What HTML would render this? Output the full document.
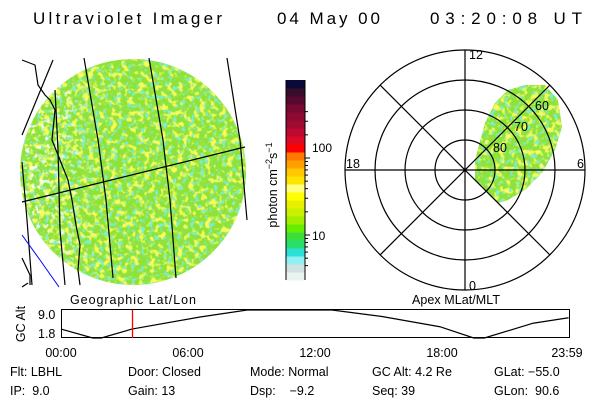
<!DOCTYPE html>
<html><head><meta charset="utf-8"><style>
html,body{margin:0;padding:0;background:#fff;}
svg{display:block;font-family:"Liberation Sans","DejaVu Sans",sans-serif;}
</style></head><body>
<svg id="root" width="600" height="400" viewBox="0 0 600 400" xmlns="http://www.w3.org/2000/svg">
<defs>
<clipPath id="clipL"><circle cx="133" cy="172" r="113"/></clipPath>
<clipPath id="clipP"><path d="M475,160 L485,123 L495,103 L508,90 L525,85 L545,85 L558,100 L562,127 L555,150 L542,173 L525,190 L508,200 L498,203 L485,190 L475,180 Z"/></clipPath>
<filter id="fy" x="0" y="0" width="1" height="1">
<feTurbulence type="fractalNoise" baseFrequency="0.18" numOctaves="2" seed="3"/>
<feColorMatrix type="matrix" values="0 0 0 0 0.95  0 0 0 0 0.97  0 0 0 0 0.1  6 0 0 0 -3.0"/>
<feComposite operator="in" in2="SourceAlpha"/>
</filter>
<filter id="fc" x="0" y="0" width="1" height="1">
<feTurbulence type="fractalNoise" baseFrequency="0.22" numOctaves="2" seed="9"/>
<feColorMatrix type="matrix" values="0 0 0 0 0.2  0 0 0 0 0.85  0 0 0 0 0.65  6 0 0 0 -3.3"/>
<feComposite operator="in" in2="SourceAlpha"/>
</filter>
<filter id="fw" x="0" y="0" width="1" height="1">
<feTurbulence type="fractalNoise" baseFrequency="0.2" numOctaves="2" seed="5"/>
<feColorMatrix type="matrix" values="0 0 0 0 1  0 0 0 0 1  0 0 0 0 1  0 7 0 0 -3.9"/>
<feComposite operator="in" in2="SourceAlpha"/>
</filter>
<linearGradient id="gw" x1="0" x2="1" y1="0" y2="0">
<stop offset="0" stop-color="#fff" stop-opacity="1"/>
<stop offset="0.2" stop-color="#fff" stop-opacity="0.7"/>
<stop offset="0.35" stop-color="#fff" stop-opacity="0"/>
<stop offset="1" stop-color="#fff" stop-opacity="0"/>
</linearGradient>
<linearGradient id="gwp" x1="0" x2="1" y1="0" y2="1">
<stop offset="0" stop-color="#fff" stop-opacity="0"/>
<stop offset="0.6" stop-color="#fff" stop-opacity="0"/>
<stop offset="0.85" stop-color="#fff" stop-opacity="1"/>
</linearGradient>
</defs>

<g font-size="17" fill="#000">
<text x="33" y="24" textLength="189" lengthAdjust="spacing">Ultraviolet Imager</text>
<text x="277" y="24" textLength="103" lengthAdjust="spacing">04 May 00</text>
<text x="430" y="24" textLength="152" lengthAdjust="spacing">03:20:08 UT</text>
</g>

<g>
<circle cx="133" cy="172" r="113" fill="#8fe23a"/>
<rect x="20" y="58" width="226" height="228" clip-path="url(#clipL)" filter="url(#fy)" fill="#000"/>
<rect x="20" y="58" width="226" height="228" clip-path="url(#clipL)" filter="url(#fc)" fill="#000"/>
<rect x="20" y="58" width="226" height="228" clip-path="url(#clipL)" filter="url(#fw)" fill="url(#gw)"/>
<g stroke="#000" stroke-width="1.2" fill="none">
<path d="M84,58 L98,140 L106,200 L113,278"/>
<path d="M149,58 L163,140 L170,200 L176,278"/>
<path d="M227,58 L240,140 L247,220"/>
<path d="M53,60 L22,135"/>
<path d="M22,202 L245,147"/>
<path d="M22,162 L27,220 L32,285"/>
<path d="M55,90 L58,150 L60,230 L65,285"/>
<path d="M22,60 L35,65 L38,85 L45,95 L50,100 L55,110 L52,140 L58,155 L62,165 L68,180 L72,200 L76,225 L80,245 L78,270 L80,285"/>
<path d="M22,258 L30,275 L30,285 M28,283 L22,287"/>
</g>
<path d="M22,235 L40,260 L59,287" stroke="#0000ff" stroke-width="1" fill="none"/>
<text x="70" y="304" font-size="12.5" textLength="126">Geographic Lat/Lon</text>
</g>

<g id="cbar">
<text transform="translate(277,185) rotate(-90)" font-size="12.5" text-anchor="middle">photon cm<tspan dy="-5" font-size="9">−2</tspan><tspan dy="5">s</tspan><tspan dy="-5" font-size="9">−1</tspan></text>
<text x="312" y="152" font-size="12">100</text>
<text x="312" y="240" font-size="12">10</text>
</g>

<g>
<path d="M475,160 L485,123 L495,103 L508,90 L525,85 L545,85 L558,100 L562,127 L555,150 L542,173 L525,190 L508,200 L498,203 L485,190 L475,180 Z" fill="#8ee23a"/>
<rect x="470" y="80" width="96" height="128" clip-path="url(#clipP)" filter="url(#fy)" fill="#000"/>
<rect x="470" y="80" width="96" height="128" clip-path="url(#clipP)" filter="url(#fc)" fill="#000"/>
<rect x="470" y="80" width="96" height="128" clip-path="url(#clipP)" filter="url(#fw)" fill="url(#gwp)"/>
<g stroke="#000" stroke-width="1.2" fill="none">
<circle cx="465" cy="170" r="30"/>
<circle cx="465" cy="170" r="60"/>
<circle cx="465" cy="170" r="90"/>
<circle cx="465" cy="170" r="120"/>
<path d="M345,170 L585,170 M465,50 L465,290 M380,85 L550,255 M380,255 L550,85"/>
</g>
<g font-size="12.5">
<text x="469" y="59">12</text>
<text x="346" y="168">18</text>
<text x="577" y="168">6</text>
<text x="469" y="290">0</text>
<text x="535" y="110">60</text>
<text x="514" y="131">70</text>
<text x="493" y="152">80</text>
</g>
<text x="412" y="304" font-size="12.5" textLength="88">Apex MLat/MLT</text>
</g>

<g id="alt">
<rect x="61.5" y="309.5" width="508" height="28" fill="none" stroke="#000" stroke-width="1"/>
<text transform="translate(25,324) rotate(-90)" font-size="12.5" text-anchor="middle">GC Alt</text>
<text x="38" y="319" font-size="12.5">9.0</text>
<text x="38" y="338" font-size="12.5">1.8</text>
</g>

<g font-size="12.5">
<text x="10" y="376">Flt: LBHL</text>
<text x="128" y="376">Door: Closed</text>
<text x="250" y="376">Mode: Normal</text>
<text x="372" y="376">GC Alt: 4.2 Re</text>
<text x="494" y="376">GLat: −55.0</text>
<text x="10" y="395" xml:space="preserve">IP:  9.0</text>
<text x="128" y="395">Gain: 13</text>
<text x="250" y="395" xml:space="preserve">Dsp:    −9.2</text>
<text x="372" y="395">Seq: 39</text>
<text x="494" y="395" xml:space="preserve">GLon:  90.6</text>
</g>
</svg>
<script>
const hours = [0, 1.5, 1.9, 3.35, 6.57, 8.8, 12, 12.8, 15.2, 17.9, 19.5, 20.0, 22.3, 23.98];
const alts = [4.1, 1.8, 1.8, 4.1, 7.2, 9.0, 9.0, 9.0, 7.3, 4.7, 1.8, 1.8, 5.6, 7.0];
const timeTicks = [0, 6, 12, 18, 23.983];
const timeTickLabels = ["00:00", "06:00", "12:00", "18:00", "23:59"];
const currentHour = 3.335;
const cbarColors = ["#0a0a38","#3a0c2c","#560a30","#780a32","#8c0a32","#a00a30","#bc0a30","#dc0a24","#ff0000","#ff7800","#ffa000","#ffc800","#ffe400","#ffff80","#ffff00","#e6f000","#c8f000","#a0ee00","#66ee00","#3cde3c","#2ade6c","#2ae0d8","#90f0f2","#d2e2e2","#eaf4ee"];
const cbarTickVals = [10, 100];
const cbarMinorVals = [4, 5, 6, 7, 8, 9, 20, 30, 40, 50, 60, 70, 80, 90, 200, 300, 400];
const NS = "http://www.w3.org/2000/svg";
const x = h => 61 + h / 24 * 508;
const y = a => 338 - (a - 1.8) / (9.0 - 1.8) * 28;
const alt = document.getElementById('alt');
const line = document.createElementNS(NS, 'polyline');
line.setAttribute('points', hours.map((h, i) => x(h) + ',' + y(alts[i])).join(' '));
line.setAttribute('fill', 'none');
line.setAttribute('stroke', '#000');
line.setAttribute('stroke-width', '1.2');


alt.appendChild(line);
const red = document.createElementNS(NS, 'line');
const rx = Math.round(x(currentHour)) + 0.5;
red.setAttribute('x1', rx); red.setAttribute('x2', rx);
red.setAttribute('y1', 310); red.setAttribute('y2', 338);
red.setAttribute('stroke', '#ff0000'); red.setAttribute('stroke-width', '1.3');


alt.appendChild(red);
timeTicks.forEach((t, i) => {
  const tx = document.createElementNS(NS, 'text');
  tx.setAttribute('x', i === timeTicks.length - 1 ? x(t) + 14 : x(t));
  tx.setAttribute('y', 357);
  tx.setAttribute('font-size', '12.5');
  tx.setAttribute('text-anchor', i === timeTicks.length - 1 ? 'end' : 'middle');
  
  
  tx.textContent = timeTickLabels[i];
  alt.appendChild(tx);
});
const cb = document.getElementById('cbar');
const cTop = 80, cBot = 280, cx0 = 286, cw = 19;
const bh = (cBot - cTop) / cbarColors.length;
cbarColors.forEach((c, i) => {
  const r = document.createElementNS(NS, 'rect');
  r.setAttribute('x', cx0); r.setAttribute('y', cTop + i * bh);
  r.setAttribute('width', cw); r.setAttribute('height', bh + 0.5);
  r.setAttribute('fill', c);
  
  
  cb.insertBefore(r, cb.firstChild);
});
const cy = v => 235 - (Math.log10(v) - 1) * 77;
const axl = document.createElementNS(NS, 'path');
axl.setAttribute('d', `M${cx0},${cTop} L${cx0},${cBot} M${cx0+cw},${cTop} L${cx0+cw},${cBot}`);
axl.setAttribute('stroke', '#000'); axl.setAttribute('stroke-width', '1');


cb.appendChild(axl);
cbarMinorVals.concat(cbarTickVals).forEach(v => {
  const yy = cy(v);
  if (yy < cTop || yy > cBot) return;
  const t = document.createElementNS(NS, 'line');
  const len = cbarTickVals.includes(v) ? 5 : 3;
  t.setAttribute('x1', cx0 + cw); t.setAttribute('x2', cx0 + cw + len);
  t.setAttribute('y1', yy); t.setAttribute('y2', yy);
  t.setAttribute('stroke', '#000'); t.setAttribute('stroke-width', '1');
  
  
  cb.appendChild(t);
});
</script>
</body></html>
